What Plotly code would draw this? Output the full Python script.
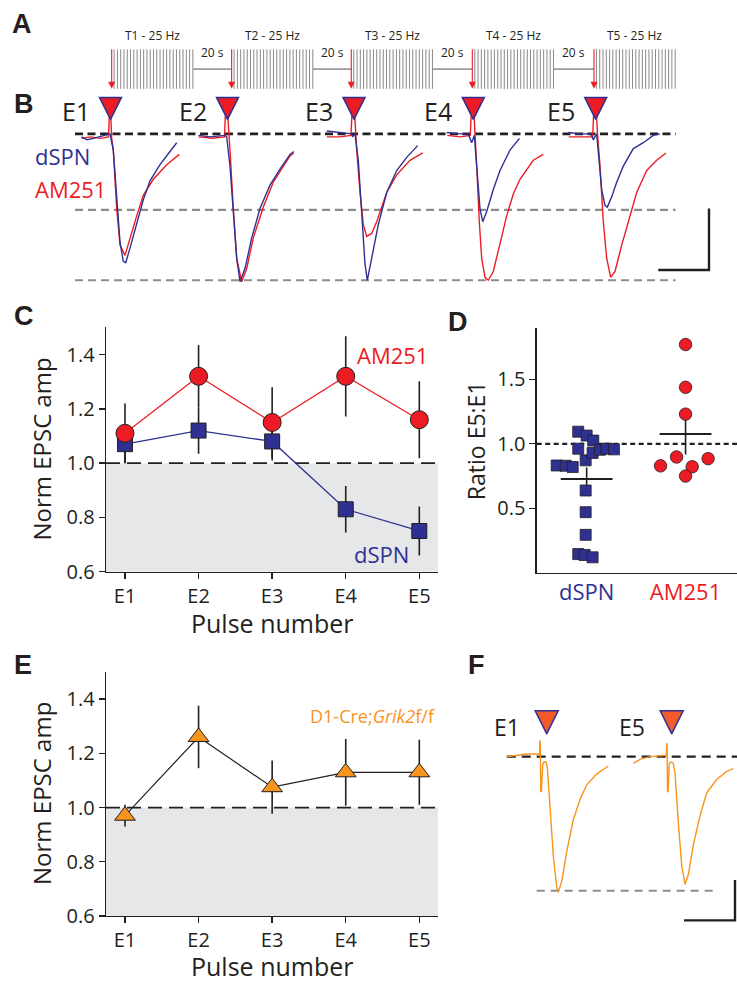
import plotly.graph_objects as go

W, H = 737, 991


def px(x):
    return x / W


def py(y):
    return 1 - y / H


# ============================ DATA ============================
# --- A: stimulation protocol (schematic, gaps compressed) ---
train_labels = ["T1 - 25 Hz", "T2 - 25 Hz", "T3 - 25 Hz", "T4 - 25 Hz", "T5 - 25 Hz"]
train_onsets = [0.0, 1.463, 2.922, 4.398, 5.882]
pulse_times = [0.03, 0.07, 0.11, 0.15, 0.19, 0.23, 0.27, 0.31, 0.35, 0.39, 0.43, 0.47, 0.51,
               0.55, 0.59, 0.63, 0.67, 0.71, 0.75, 0.79, 0.83, 0.87, 0.91, 0.95, 0.99]
interval_label = "20 s"

# --- B: example EPSCs (time rel. to stim, amplitude normalised to largest EPSC) ---
sweep_labels = ["E1", "E2", "E3", "E4", "E5"]
sweep_onsets = [110.5, 227.5, 354.0, 473.3, 595.7]
dspn_t = [
    [-29, -23.5, -17, -7, -0.5, 2.8, 6.2, 9.5, 12.8, 15.2, 19.5, 26.2, 32.8, 39.5, 49.5, 59.5, 66.2],
    [-29, -17.5, -2.5, -0.8, 2.5, 5.8, 9.2, 12.5, 17.5, 24.2, 32.5, 42.5, 52.5, 62.5, 66.3],
    [-27.3, -14, -2.3, -1.5, 1, 4.3, 7.7, 11, 13.3, 17.7, 24.3, 32.7, 42.7, 52.7, 63.7],
    [-26.6, -13.3, -5, -1.6, 1, 3.4, 6.7, 9.4, 13.4, 20, 26.7, 36.7, 46.2],
    [-27.4, -15.7, -4.7, -2.4, 1, 3.6, 6, 9.3, 11.6, 16, 21, 27.6, 37.6, 47.6, 57.6, 64.3],
]
dspn_v = [
    [-0.02, -0.04, -0.03, -0.01, 0.0, -0.11, -0.45, -0.74, -0.87, -0.88, -0.78, -0.62, -0.45, -0.32, -0.21, -0.12, -0.06],
    [-0.01, -0.02, -0.01, -0.02, -0.22, -0.56, -0.85, -1.01, -0.92, -0.71, -0.51, -0.35, -0.24, -0.14, -0.12],
    [0.02, 0.01, 0.0, -0.02, 0.0, -0.18, -0.56, -0.89, -1.0, -0.85, -0.62, -0.40, -0.25, -0.16, -0.08],
    [0.01, 0.0, 0.0, -0.06, -0.01, -0.22, -0.51, -0.60, -0.53, -0.38, -0.25, -0.11, -0.03],
    [0.01, 0.0, 0.0, -0.04, 0.0, -0.18, -0.38, -0.49, -0.50, -0.43, -0.33, -0.22, -0.10, -0.06, -0.01, 0.0],
]
am251_t = [
    [-29, -20, -10, -2, -1.2, 0.3, 1.2, 2.8, 6.2, 9.5, 14.5, 19.5, 26.2, 32.8, 42.8, 56.2, 68.8],
    [-29, -15, -3, -2.2, 0.3, 1.2, 2.5, 5.8, 9.2, 14.2, 19.2, 25.8, 35.8, 45.8, 62.5, 66.3],
    [-27, -14, -3, -2.2, 0.8, 1.6, 2.7, 6, 9.3, 12.7, 17.7, 22.7, 32.7, 42.7, 56, 68.7],
    [-26, -13, -3, -2.2, 0.8, 1.8, 3.4, 6, 8.4, 11.7, 15, 20, 26.7, 33.4, 40, 46.7, 60, 70],
    [-27, -15, -3, -2.2, 0.8, 1.8, 4.3, 7.6, 11, 15, 19.3, 26, 32.6, 41, 51, 61, 70.3],
]
am251_v = [
    [-0.03, -0.02, -0.03, -0.02, 0.12, 0.12, -0.03, -0.11, -0.51, -0.76, -0.83, -0.71, -0.56, -0.42, -0.31, -0.21, -0.14],
    [-0.02, -0.03, -0.02, 0.12, 0.12, -0.02, -0.11, -0.51, -0.85, -1.01, -0.92, -0.71, -0.50, -0.33, -0.15, -0.13],
    [-0.02, -0.02, -0.01, 0.12, 0.12, -0.01, -0.11, -0.40, -0.62, -0.70, -0.68, -0.60, -0.40, -0.28, -0.18, -0.13],
    [-0.01, -0.02, -0.01, 0.12, 0.12, 0.0, -0.22, -0.60, -0.85, -0.98, -1.0, -0.94, -0.74, -0.56, -0.41, -0.31, -0.18, -0.14],
    [-0.02, -0.02, -0.02, 0.12, 0.12, 0.0, -0.22, -0.60, -0.85, -0.98, -0.94, -0.76, -0.60, -0.40, -0.25, -0.18, -0.13],
]
b_ref_levels = [0.0, -0.519, -1.0]
b_scale_time, b_scale_amp = 50.7, 0.42

# --- C: normalised EPSC amplitude per pulse ---
pulses = ["E1", "E2", "E3", "E4", "E5"]
c_am251_mean = [1.11, 1.32, 1.15, 1.32, 1.16]
c_am251_sem = [0.11, 0.115, 0.13, 0.148, 0.142]
c_dspn_mean = [1.07, 1.12, 1.08, 0.83, 0.75]
c_dspn_sem = [0.07, 0.085, 0.07, 0.086, 0.09]

# --- D: E5:E1 ratio per cell ---
d_groups = ["dSPN", "AM251"]
d_dspn_x = [-0.085, 0.0, 0.067, -0.085, -0.303, -0.212, -0.141, -0.01, 0.06, 0.134, 0.2, 0.276,
            -0.01, -0.01, -0.01, -0.085, -0.02, 0.06]
d_dspn_y = [1.094, 1.064, 1.025, 0.962, 0.832, 0.83, 0.82, 0.872, 0.929, 0.954, 0.962, 0.957,
            0.638, 0.47, 0.294, 0.145, 0.138, 0.12]
d_am251_x = [1.0, 1.0, 1.0, 0.909, 1.228, 0.747, 1.067, 1.0]
d_am251_y = [1.77, 1.438, 1.23, 0.898, 0.885, 0.829, 0.822, 0.75]
d_mean = [0.727, 1.077]
d_sem = [0.09, 0.16]

# --- E: D1-Cre;Grik2 f/f ---
e_mean = [0.97, 1.26, 1.075, 1.13, 1.13]
e_sem = [0.04, 0.115, 0.098, 0.123, 0.12]

# --- F: example EPSCs, D1-Cre;Grik2 f/f ---
f_labels = ["E1", "E5"]
f_onsets = [546.7, 671.7]
f_t = [
    [-40, -30, -20, -8.4, -7.2, -6.9, -6.4, -6.0, -5.3, -4.0, -2.7, -0.7, 0.6, 3.3, 6.6, 10, 11.6, 15, 20, 26.6, 33.3, 40, 50, 61.6],
    [-38.4, -31.7, -21.7, -8.4, -5.3, -5.0, -4.6, -4.2, -3.6, -2.4, -0.4, 1.6, 3.3, 6.6, 10, 13.3, 16.6, 21.6, 28.3, 35, 45, 55, 61.6],
]
f_v = [
    [0.0, 0.01, 0.02, 0.02, 0.02, 0.12, 0.10, -0.26, -0.26, -0.06, -0.04, -0.04, -0.08, -0.37, -0.74, -0.97, -1.01, -0.93, -0.71, -0.47, -0.32, -0.21, -0.13, -0.07],
    [-0.05, -0.02, 0.0, 0.01, 0.01, 0.10, 0.09, -0.26, -0.26, -0.05, -0.04, -0.05, -0.12, -0.49, -0.81, -0.95, -0.88, -0.66, -0.44, -0.27, -0.17, -0.11, -0.09],
]
f_scale_time, f_scale_amp = 51.0, 0.30

# ============================ STYLE ============================
RED = "#ED1C24"
BLUE = "#2E3192"
ORANGE = "#F7941D"
ORANGE_RED = "#F15A29"
INK = "#231F20"
DASH_GRAY = "#8C8C8C"
SHADE = "#E6E7E8"
FONT = "Open Sans"

fig = go.Figure()


def add(trace):
    trace.update(hoverinfo="skip", showlegend=False)
    fig.add_trace(trace)


# ---------------- A ----------------
xs, ys = [], []
for s in train_onsets:
    for p in pulse_times:
        xs += [s + p, s + p, None]
        ys += [0.1, 0.9, None]
add(go.Scatter(x=xs, y=ys, mode="lines", line=dict(color="#8a8a8a", width=1), xaxis="x", yaxis="y"))
cx, cy = [], []
for i in range(len(train_onsets) - 1):
    cx += [train_onsets[i] + pulse_times[-1], train_onsets[i + 1], None]
    cy += [0.5, 0.5, None]
add(go.Scatter(x=cx, y=cy, mode="lines", line=dict(color="#9a9a9a", width=1.6), xaxis="x", yaxis="y"))
ax_, ay_ = [], []
for s in train_onsets:
    ax_ += [s, s, None]
    ay_ += [0.9, 0.2, None]
add(go.Scatter(x=ax_, y=ay_, mode="lines", line=dict(color=RED, width=1.1), xaxis="x", yaxis="y"))
add(go.Scatter(x=train_onsets, y=[0.1] * len(train_onsets), mode="markers",
               marker=dict(symbol="arrow-down", size=7, color=RED, line=dict(width=0)),
               xaxis="x", yaxis="y"))

# ---------------- B ----------------
b_x0, b_x1 = 75, 675.6
for lvl in b_ref_levels:
    add(go.Scatter(x=[b_x0, b_x1], y=[lvl, lvl], mode="lines",
                   line=dict(color=INK if lvl == 0 else DASH_GRAY, width=2.6 if lvl == 0 else 2.2,
                             dash="8px,4.5px" if lvl == 0 else "8px,5px"),
                   xaxis="x2", yaxis="y2"))
for k, on in enumerate(sweep_onsets):
    add(go.Scatter(x=[on + t for t in am251_t[k]], y=am251_v[k], mode="lines",
                   line=dict(color=RED, width=1.4), xaxis="x2", yaxis="y2"))
    add(go.Scatter(x=[on + t for t in dspn_t[k]], y=dspn_v[k], mode="lines",
                   line=dict(color=BLUE, width=1.4), xaxis="x2", yaxis="y2"))
add(go.Scatter(x=sweep_onsets, y=[0.099] * len(sweep_onsets), mode="markers",
               marker=dict(symbol="arrow-down", size=22, color=RED, line=dict(color=BLUE, width=1.5)),
               xaxis="x2", yaxis="y2"))
sb_x, sb_y = 709, -0.93
add(go.Scatter(x=[sb_x - b_scale_time, sb_x, sb_x], y=[sb_y, sb_y, sb_y + b_scale_amp], mode="lines",
               line=dict(color=INK, width=2.4), xaxis="x2", yaxis="y2"))

# ---------------- C ----------------
c_x = list(range(1, len(pulses) + 1))
add(go.Scatter(x=c_x, y=c_am251_mean, mode="markers", marker=dict(size=1, color="rgba(0,0,0,0)"),
               error_y=dict(type="data", array=c_am251_sem, color=INK, thickness=1.6, width=0),
               xaxis="x3", yaxis="y3"))
add(go.Scatter(x=c_x, y=c_dspn_mean, mode="markers", marker=dict(size=1, color="rgba(0,0,0,0)"),
               error_y=dict(type="data", array=c_dspn_sem, color=INK, thickness=1.6, width=0),
               xaxis="x3", yaxis="y3"))
add(go.Scatter(x=c_x, y=c_dspn_mean, mode="lines+markers", line=dict(color=BLUE, width=1.3),
               marker=dict(symbol="square", size=15, color=BLUE, line=dict(color=INK, width=1)),
               xaxis="x3", yaxis="y3"))
add(go.Scatter(x=c_x, y=c_am251_mean, mode="lines+markers", line=dict(color=RED, width=1.3),
               marker=dict(symbol="circle", size=18, color=RED, line=dict(color=INK, width=1)),
               xaxis="x3", yaxis="y3"))

# ---------------- D ----------------
add(go.Scatter(x=[0, 1], y=d_mean, mode="markers",
               marker=dict(symbol="line-ew", size=37, color=INK, line=dict(color=INK, width=2)),
               error_y=dict(type="data", array=d_sem, color=INK, thickness=1.6, width=0),
               xaxis="x4", yaxis="y4"))
add(go.Scatter(x=d_dspn_x, y=d_dspn_y, mode="markers",
               marker=dict(symbol="square", size=11, color=BLUE, line=dict(color=INK, width=0.8)),
               xaxis="x4", yaxis="y4"))
add(go.Scatter(x=d_am251_x, y=d_am251_y, mode="markers",
               marker=dict(symbol="circle", size=12.5, color=RED, line=dict(color=INK, width=0.8)),
               xaxis="x4", yaxis="y4"))

# ---------------- E ----------------
add(go.Scatter(x=c_x, y=e_mean, mode="markers", marker=dict(size=1, color="rgba(0,0,0,0)"),
               error_y=dict(type="data", array=e_sem, color=INK, thickness=1.6, width=0),
               xaxis="x5", yaxis="y5"))
add(go.Scatter(x=c_x, y=e_mean, mode="lines+markers", line=dict(color=INK, width=1.2),
               marker=dict(symbol="triangle-up", size=18, color=ORANGE, line=dict(color=INK, width=1)),
               xaxis="x5", yaxis="y5"))

# ---------------- F ----------------
add(go.Scatter(x=[506.7, 737], y=[0, 0], mode="lines",
               line=dict(color=INK, width=2.4, dash="9px,6px"), xaxis="x6", yaxis="y6"))
add(go.Scatter(x=[536.7, 718.3], y=[-1, -1], mode="lines",
               line=dict(color=DASH_GRAY, width=2.0, dash="8px,6px"), xaxis="x6", yaxis="y6"))
for k, on in enumerate(f_onsets):
    add(go.Scatter(x=[on + t for t in f_t[k]], y=f_v[k], mode="lines",
                   line=dict(color=ORANGE, width=1.4), xaxis="x6", yaxis="y6"))
add(go.Scatter(x=f_onsets, y=[0.17] * len(f_onsets), mode="markers",
               marker=dict(symbol="arrow-down", size=23, color=ORANGE_RED, line=dict(color=BLUE, width=1.5)),
               xaxis="x6", yaxis="y6"))
fsb_x, fsb_y = 735, -1.22
add(go.Scatter(x=[fsb_x - f_scale_time, fsb_x, fsb_x], y=[fsb_y, fsb_y, fsb_y + f_scale_amp], mode="lines",
               line=dict(color=INK, width=2.4), xaxis="x6", yaxis="y6"))

# ============================ LAYOUT ============================
hidden = dict(visible=False, showgrid=False, zeroline=False, fixedrange=True)
axis_common = dict(showline=True, linecolor=INK, linewidth=1.3, showgrid=False, zeroline=False,
                   ticks="outside", ticklen=6, tickwidth=1.3, tickcolor=INK,
                   tickfont=dict(family=FONT, size=20, color=INK))

layout = dict(
    width=W, height=H, margin=dict(l=0, r=0, t=0, b=0),
    paper_bgcolor="white", plot_bgcolor="rgba(0,0,0,0)", showlegend=False,
    font=dict(family=FONT, color=INK),
    xaxis=dict(domain=[0, 1], range=[-1.362, 7.626], anchor="y", **hidden),
    yaxis=dict(domain=[py(95), py(25)], range=[0, 1.4], anchor="x", **hidden),
    xaxis2=dict(domain=[0, 1], range=[0, 737], anchor="y2", **hidden),
    yaxis2=dict(domain=[py(300), py(90)], range=[-1.1079, 0.3082], anchor="x2", **hidden),
    xaxis3=dict(domain=[px(106), px(438)], range=[0.742, 5.254], anchor="y3",
                tickvals=c_x, ticktext=pulses, **axis_common),
    yaxis3=dict(domain=[py(579.3), py(331.8)], range=[0.6, 1.5], anchor="x3",
                tickvals=[0.6, 0.8, 1.0, 1.2, 1.4], tickformat=".1f", **axis_common),
    xaxis4=dict(domain=[px(536.7), 1], range=[-0.505, 1.52], anchor="y4",
                tickvals=[0, 1],
                ticktext=['<span style="color:%s">%s</span>' % (BLUE, d_groups[0]),
                          '<span style="color:%s">%s</span>' % (RED, d_groups[1])],
                **{**axis_common, "ticks": "", "tickfont": dict(family=FONT, size=22, color=INK)}),
    yaxis4=dict(domain=[py(580.4), py(332.1)], range=[0, 1.9], anchor="x4",
                tickvals=[0.5, 1.0, 1.5], tickformat=".1f", **axis_common),
    xaxis5=dict(domain=[px(106), px(438)], range=[0.742, 5.254], anchor="y5",
                tickvals=c_x, ticktext=pulses, **axis_common),
    yaxis5=dict(domain=[py(928.3), py(680.8)], range=[0.6, 1.5], anchor="x5",
                tickvals=[0.6, 0.8, 1.0, 1.2, 1.4], tickformat=".1f", **axis_common),
    xaxis6=dict(domain=[px(490), 1], range=[490, 737], anchor="y6", **hidden),
    yaxis6=dict(domain=[py(950), py(700)], range=[-1.3478, 0.4904], anchor="x6", **hidden),
)
fig.update_layout(**layout)

# shading + reference lines
for xa, ya in (("x3", "y3"), ("x5", "y5")):
    fig.add_shape(type="rect", xref=xa + " domain", yref=ya, x0=0, x1=1, y0=0.6, y1=1.0,
                  fillcolor=SHADE, line=dict(width=0), layer="below")
    fig.add_shape(type="line", xref=xa + " domain", yref=ya, x0=0, x1=1, y0=1.0, y1=1.0,
                  line=dict(color=INK, width=1.7, dash="14px,7px"), layer="below")
fig.add_shape(type="line", xref="x4 domain", yref="y4", x0=0, x1=1, y0=1.0, y1=1.0,
              line=dict(color=INK, width=2.2, dash="5px,3.5px"), layer="below")

ann = []


def text(x, y, s, size, color=INK, xref="paper", yref="paper", xanchor="center", yanchor="middle",
         angle=0, family=FONT, bold=False):
    ann.append(dict(x=x, y=y, xref=xref, yref=yref, text=("<b>%s</b>" % s) if bold else s,
                    showarrow=False, xanchor=xanchor, yanchor=yanchor, textangle=angle,
                    font=dict(family=family, size=size, color=color)))


# panel letters
for letter, lx, ly in (("A", 10, 24), ("B", 12, 105), ("C", 12, 320), ("D", 446, 326),
                       ("E", 12, 674), ("F", 466, 674)):
    text(px(lx), py(ly), letter, 27, xanchor="left", family="Liberation Sans", bold=True)

# A texts
for lab, s in zip(train_labels, train_onsets):
    text(s + 0.5, 1.18, lab, 12, xref="x", yref="y")
for i in range(len(train_onsets) - 1):
    text((train_onsets[i] + pulse_times[-1] + train_onsets[i + 1]) / 2, 0.84, interval_label, 12,
         xref="x", yref="y")

# B texts
for lab, on in zip(sweep_labels, sweep_onsets):
    text(on - 19, 0.155, lab, 25, xref="x2", yref="y2", xanchor="right")
text(33, -0.152, "dSPN", 22, color=BLUE, xref="x2", yref="y2", xanchor="left")
text(33, -0.378, "AM251", 22, color=RED, xref="x2", yref="y2", xanchor="left")

# C texts
text(4.64, 1.397, "AM251", 22, color=RED, xref="x3", yref="y3")
text(4.485, 0.667, "dSPN", 22, color=BLUE, xref="x3", yref="y3")
text(px(42), py(455.5), "Norm EPSC amp", 24, angle=-90)
text(px(272), py(631), "Pulse number", 25)

# D texts
text(px(476), py(446), "Ratio E5:E1", 23, angle=-90)

# E texts
text(3.486, 1.339, "D1-Cre;<i>Grik2</i>f/f", 18, color=ORANGE, xref="x5", yref="y5", xanchor="left")
text(px(42), py(804.5), "Norm EPSC amp", 24, angle=-90)
text(px(272), py(979), "Pulse number", 25)

# F texts
for lab, on in zip(f_labels, f_onsets):
    text(on - 25, 0.22, lab, 23, xref="x6", yref="y6", xanchor="right")

fig.update_layout(annotations=ann)
fig.write_html("out.html", config={"displayModeBar": False, "staticPlot": True},
               post_script="document.body.style.margin='0';document.body.style.overflow='hidden';")
